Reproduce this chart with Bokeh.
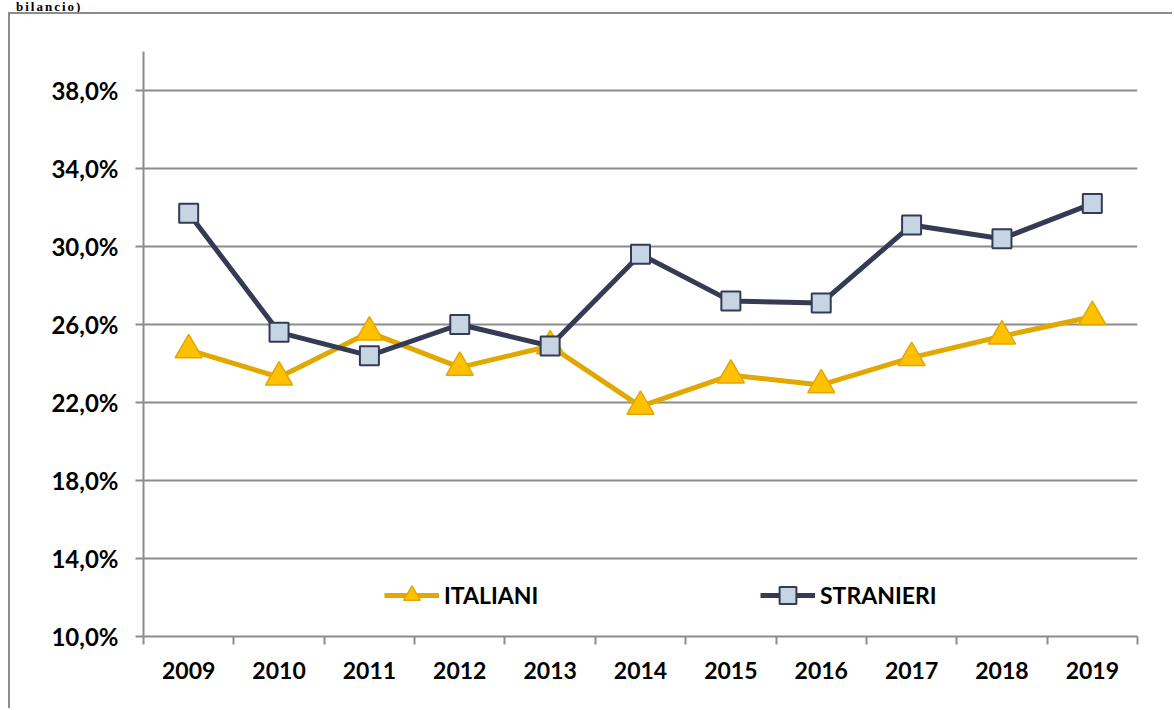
from bokeh.plotting import figure
from bokeh.models import FixedTicker, Legend, LegendItem, Range1d, Div
from bokeh.layouts import column
from bokeh.embed import file_html
from bokeh.resources import INLINE

# ---- data ----
years = ["2009", "2010", "2011", "2012", "2013", "2014", "2015", "2016", "2017", "2018", "2019"]
italiani = [24.7, 23.3, 25.6, 23.8, 24.9, 21.8, 23.4, 22.9, 24.3, 25.4, 26.4]
stranieri = [31.7, 25.6, 24.4, 26.0, 24.9, 29.6, 27.2, 27.1, 31.1, 30.4, 32.2]
y_ticks = [10, 14, 18, 22, 26, 30, 34, 38]
title_fragment = "bilancio)"

FONT = "Lato"
GRID = "#8c8c8c"
GOLD_LINE = "#e0a800"
GOLD_FILL = "#ffc000"
NAVY = "#363b55"
SQ_FILL = "#c6d5e3"

xs = [i + 0.5 for i in range(len(years))]

p = figure(width=1164, height=696,
           x_range=Range1d(0, len(years)), y_range=Range1d(10, 40),
           output_backend="svg", toolbar_location=None,
           min_border_left=133, min_border_right=37,
           min_border_top=37, min_border_bottom=74)
p.styles = {"margin-left": "8px",
            "border-left": "2px solid #8c8c8c", "border-top": "2px solid #8c8c8c"}
p.outline_line_color = None
p.background_fill_color = "white"
p.border_fill_color = "white"

# y axis
p.yaxis.ticker = FixedTicker(ticks=y_ticks)
p.yaxis.major_label_overrides = {t: (f"{t:.1f}%").replace(".", ",") for t in y_ticks}
p.yaxis.axis_line_color = GRID
p.yaxis.axis_line_width = 2
p.yaxis.major_tick_line_color = GRID
p.yaxis.major_tick_line_width = 2
p.yaxis.major_tick_out = 8
p.yaxis.major_tick_in = 0
p.yaxis.minor_tick_line_color = None
p.yaxis.major_label_standoff = 17
p.yaxis.major_label_text_font = FONT
p.yaxis.major_label_text_font_style = "bold"
p.yaxis.major_label_text_font_size = "24px"
p.yaxis.major_label_text_color = "black"

# x axis
p.xaxis.ticker = FixedTicker(ticks=xs, minor_ticks=list(range(len(years) + 1)))
p.xaxis.major_label_overrides = {x: y for x, y in zip(xs, years)}
p.xaxis.axis_line_color = GRID
p.xaxis.axis_line_width = 2
p.xaxis.major_tick_line_color = None
p.xaxis.major_tick_out = 0
p.xaxis.major_tick_in = 0
p.xaxis.minor_tick_line_color = GRID
p.xaxis.minor_tick_line_width = 2
p.xaxis.minor_tick_out = 8
p.xaxis.minor_tick_in = 0
p.xaxis.major_label_standoff = 17
p.xaxis.major_label_text_font = FONT
p.xaxis.major_label_text_font_style = "bold"
p.xaxis.major_label_text_font_size = "23px"
p.xaxis.major_label_text_color = "black"

p.xgrid.grid_line_color = None
p.ygrid.grid_line_color = GRID
p.ygrid.grid_line_width = 2

# series
l1 = p.line(xs, italiani, line_color=GOLD_LINE, line_width=5, line_join="round")
m1 = p.scatter(xs, italiani, marker="triangle", size=27, fill_color=GOLD_FILL,
               line_color=GOLD_LINE, line_width=1.5)
l2 = p.line(xs, stranieri, line_color=NAVY, line_width=5, line_join="round")
m2 = p.scatter(xs, stranieri, marker="square", size=19, fill_color=SQ_FILL,
               line_color=NAVY, line_width=2)

def make_legend(label, rends, loc):
    lg = Legend(items=[LegendItem(label=label, renderers=rends)], location=loc,
                orientation="horizontal", glyph_width=55, glyph_height=42,
                label_standoff=5, padding=0, margin=0, spacing=0,
                border_line_color=None, background_fill_alpha=0,
                label_text_font=FONT, label_text_font_style="bold",
                label_text_font_size="23px", label_text_color="black")
    return lg

p.add_layout(make_legend("ITALIANI", [l1, m1], (241, 20)), "center")
p.add_layout(make_legend("STRANIERI", [l2, m2], (617, 20)), "center")

# fragment of the page title above the chart box
head = Div(text=("<div style=\"position:relative; top:-1px; left:16px; "
                 "font-family:'Liberation Serif'; font-weight:bold; font-size:13px; "
                 "line-height:12px; letter-spacing:2px; white-space:nowrap; color:black;\">"
                 + title_fragment + "</div>"),
           width=1174, height=12, margin=0)

layout = column(head, p, spacing=0)
open("out.html", "w").write(file_html(layout, INLINE))
